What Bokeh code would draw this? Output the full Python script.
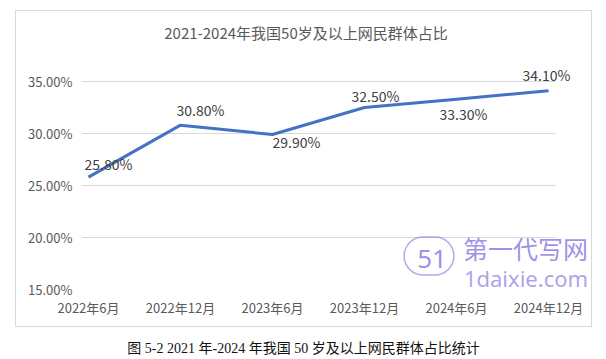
from bokeh.plotting import figure
from bokeh.layouts import column
from bokeh.models import (ColumnDataSource, LabelSet, Label, FixedTicker,
                          PrintfTickFormatter, Range1d)
from bokeh.embed import file_html
from bokeh.resources import INLINE
from bokeh.core.properties import value

# ---- data ----
title_text = "2021-2024年我国50岁及以上网民群体占比"
caption_text = "图 5-2 2021 年-2024 年我国 50 岁及以上网民群体占比统计"
categories = ["2022年6月", "2022年12月", "2023年6月", "2023年12月", "2024年6月", "2024年12月"]
share = [25.8, 30.8, 29.9, 32.5, 33.3, 34.1]
y_ticks = [15, 20, 25, 30, 35]
watermark_logo = "51"
watermark_cn = "第一代写网"
watermark_en = "1daixie.com"

# ---- layout of the data labels (pixel offsets) ----
label_dx = [20, 20, 24, 11, 7, -2]
label_dy = [13, 15, -7, 12, -15, 16]

FONT = "Noto Sans CJK SC"
GREY = "#595959"
WM = "#7b6fe0"

x_idx = list(range(len(categories)))
src = ColumnDataSource(dict(x=x_idx, y=share,
                            text=[f"{v:.2f}%" for v in share],
                            dx=label_dx, dy=label_dy))

PAD = 0.076
p = figure(width=577, height=317, output_backend="svg", toolbar_location=None,
           x_range=Range1d(-PAD, -PAD + 512 / 92),
           y_range=Range1d(y_ticks[0], y_ticks[0] + 278 / 10.4),
           min_border_left=65, min_border_right=0,
           min_border_top=0, min_border_bottom=39,
           margin=(10, 0, 0, 15),
           styles={"border": "1px solid #d9d9d9"})
p.outline_line_color = None
p.background_fill_color = "white"
p.border_fill_color = "white"

# axes
p.yaxis.ticker = FixedTicker(ticks=y_ticks)
p.yaxis.formatter = PrintfTickFormatter(format="%.2f%%")
p.xaxis.ticker = FixedTicker(ticks=x_idx)
p.xaxis.major_label_overrides = {i: c for i, c in enumerate(categories)}
for ax in (p.xaxis, p.yaxis):
    ax.axis_line_color = None
    ax.major_tick_line_color = None
    ax.minor_tick_line_color = None
    ax.major_tick_out = 0
    ax.major_tick_in = 0
    ax.major_label_text_font = FONT
    ax.major_label_text_font_size = "13px"
    ax.major_label_text_color = GREY
p.yaxis.major_label_standoff = 9
p.xaxis.major_label_standoff = 8

p.xgrid.grid_line_color = None
p.ygrid.ticker = FixedTicker(ticks=y_ticks)
p.ygrid.grid_line_color = "#d9d9d9"
p.ygrid.grid_line_width = 1
p.ygrid.cross_bounds = (-PAD, len(categories) - 1 + PAD)

# watermark (drawn under the line)
p.add_layout(Label(x=411.5, y=243.5, x_units="canvas", y_units="canvas",
                   text=watermark_logo, text_align="center", text_baseline="middle",
                   text_font="Noto Sans", text_font_size="26px", text_color=WM,
                   text_alpha=0.75, padding=(13, 7, 13, 7), border_radius=22,
                   border_line_color=WM, border_line_alpha=0.6, border_line_width=1.5,
                   level="underlay"))
p.add_layout(Label(x=508, y=235.5, x_units="canvas", y_units="canvas",
                   text=watermark_cn, text_align="center", text_baseline="middle",
                   text_font=FONT, text_font_size="25px", text_color=WM,
                   text_alpha=0.75, level="underlay"))
p.add_layout(Label(x=508.5, y=265, x_units="canvas", y_units="canvas",
                   text=watermark_en, text_align="center", text_baseline="middle",
                   text_font="Noto Sans", text_font_size="22px", text_color=WM,
                   text_alpha=0.65, level="underlay"))

# line
p.line("x", "y", source=src, line_color="#4472C4", line_width=3, line_join="round")

# data labels
labels = LabelSet(x="x", y="y", text="text", source=src, x_offset="dx", y_offset="dy",
                  text_align="center", text_baseline="middle",
                  text_font=value(FONT), text_font_size="14px", text_color="#404040")
p.add_layout(labels)

# title
p.add_layout(Label(x=288.5, y=19.5, x_units="canvas", y_units="canvas",
                   text=title_text, text_align="center", text_baseline="middle",
                   text_font=FONT, text_font_size="15px", text_color=GREY))

# caption
cap = figure(width=606, height=30, output_backend="svg", toolbar_location=None,
             x_axis_type=None, y_axis_type=None,
             x_range=Range1d(0, 1), y_range=Range1d(0, 1),
             min_border=0, margin=(0, 0, 0, 0))
cap.outline_line_color = None
cap.xgrid.visible = False
cap.ygrid.visible = False
cap.add_layout(Label(x=303, y=21, x_units="canvas", y_units="canvas",
                     text=caption_text, text_align="center", text_baseline="middle",
                     text_font="Liberation Serif, Noto Sans CJK SC", text_font_size="14px",
                     text_color="#111111"))

layout = column(p, cap, spacing=0)
open("out.html", "w").write(file_html(layout, INLINE))
